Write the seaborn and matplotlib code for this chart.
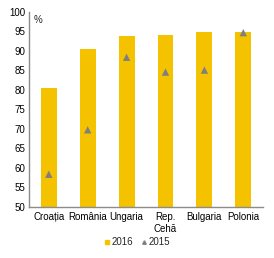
import matplotlib
matplotlib.use("Agg")
import matplotlib.pyplot as plt
import seaborn as sns
import pandas as pd
from matplotlib.lines import Line2D

countries = ["Croația", "România", "Ungaria", "Rep.\nCehă", "Bulgaria", "Polonia"]
v2016 = [80.5, 90.3, 93.8, 94.0, 94.8, 94.8]
v2015 = [58.3, 69.7, 88.3, 84.5, 85.0, 94.6]
yticks = [50, 55, 60, 65, 70, 75, 80, 85, 90, 95, 100]

sns.set_theme(style="white")
plt.rcParams['font.family'] = ['Liberation Sans', 'DejaVu Sans']

df = pd.DataFrame({"country": countries, "v2016": v2016, "v2015": v2015})

fig = plt.figure(figsize=(2.74, 2.58), dpi=100)
ax = fig.add_axes([0.107, 0.199, 0.852, 0.756])

yellow = "#F5C200"
grey = "#7F7F7F"

sns.barplot(data=df, x="country", y="v2016", color=yellow, width=0.41,
            saturation=1, ax=ax, edgecolor="none")
sns.scatterplot(data=df, x="country", y="v2015", marker="^", color=grey,
                s=28, edgecolor="none", ax=ax, zorder=5)

ax.set_ylim(50, 100)
ax.set_yticks(yticks)
ax.set_xlim(-0.5, 5.5)
ax.set_xlabel("")
ax.set_ylabel("")
ax.tick_params(axis="both", labelsize=7, length=0, pad=3, colors="black")
ax.tick_params(axis="x", pad=4)
for s in ["top", "right"]:
    ax.spines[s].set_visible(False)
for s in ["left", "bottom"]:
    ax.spines[s].set_color("#8C8C8C")
    ax.spines[s].set_linewidth(1.0)
ax.text(0.02, 0.985, "%", transform=ax.transAxes, fontsize=7, va="top", ha="left")

handles = [
    Line2D([], [], marker="s", color=yellow, linestyle="none", markersize=3.5),
    Line2D([], [], marker="^", color=grey, linestyle="none", markersize=2.5),
]
fig.legend(handles, ["2016", "2015"], loc="center", bbox_to_anchor=(0.5, 0.062),
           ncol=2, frameon=False, fontsize=7, handlelength=0.6, handletextpad=0.2,
           columnspacing=0.8, borderpad=0)

fig.savefig("out.png", dpi=100)
